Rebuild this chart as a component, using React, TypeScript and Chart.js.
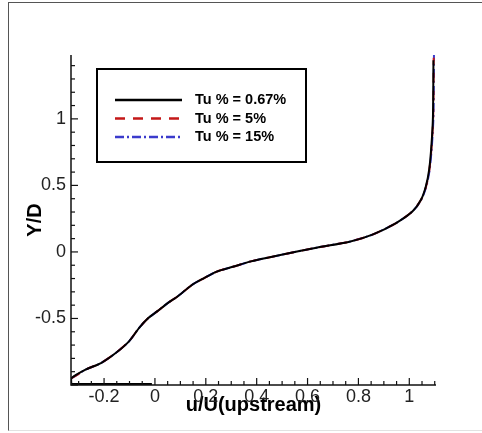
import React, { useEffect, useRef } from "react";
import { Chart, registerables } from "chart.js";

Chart.register(...registerables);

// ---- data ----
const seriesLabels = ["Tu % = 0.67%", "Tu % = 5%", "Tu % = 15%"];

const blackX = [-0.329, -0.329, -0.271, -0.212, -0.153, -0.101, -0.062, -0.025, 0.01, 0.05, 0.09, 0.144, 0.19, 0.243, 0.31, 0.373, 0.502, 0.635, 0.765, 0.855, 0.948, 1.013, 1.046, 1.065, 1.078, 1.087, 1.093, 1.095];
const blackY = [-0.99, -0.95, -0.883, -0.835, -0.758, -0.67, -0.57, -0.495, -0.445, -0.385, -0.333, -0.25, -0.2, -0.148, -0.11, -0.073, -0.02, 0.032, 0.077, 0.13, 0.217, 0.305, 0.392, 0.492, 0.617, 0.8, 1.015, 1.44];

const wallX = [-0.012, -0.329];
const wallY = [-0.992, -0.992];

const redX = [-0.329, -0.271, -0.212, -0.153, -0.101, -0.062, -0.025, 0.01, 0.05, 0.09, 0.144, 0.19, 0.243, 0.31, 0.373, 0.502, 0.635, 0.765, 0.855, 0.948, 1.013, 1.046, 1.066, 1.079, 1.088, 1.094, 1.096];
const redY = [-0.95, -0.883, -0.835, -0.758, -0.67, -0.57, -0.495, -0.445, -0.385, -0.333, -0.25, -0.2, -0.148, -0.11, -0.073, -0.02, 0.032, 0.077, 0.13, 0.217, 0.305, 0.392, 0.492, 0.617, 0.8, 1.015, 1.46];

const blueX = [-0.329, -0.271, -0.212, -0.153, -0.101, -0.062, -0.025, 0.01, 0.05, 0.09, 0.144, 0.19, 0.243, 0.31, 0.373, 0.502, 0.635, 0.765, 0.855, 0.948, 1.013, 1.047, 1.067, 1.08, 1.089, 1.095, 1.097];
const blueY = [-0.95, -0.883, -0.835, -0.758, -0.67, -0.57, -0.495, -0.445, -0.385, -0.333, -0.25, -0.2, -0.148, -0.11, -0.073, -0.02, 0.032, 0.077, 0.13, 0.217, 0.305, 0.392, 0.492, 0.617, 0.8, 1.015, 1.48];

const xTickValues = [-0.2, 0, 0.2, 0.4, 0.6, 0.8, 1];
const yTickValues = [-0.5, 0, 0.5, 1];

const X_MIN = -0.33;
const X_MAX = 1.105;
const Y_MIN = -1;
const Y_MAX = 1.48;

const FONT = "Arial, 'Liberation Sans', Helvetica, sans-serif";
const BLACK = "#000000";
const RED = "#c41818";
const BLUE = "#3b3bcc";

const pts = (xs: number[], ys: number[]) => xs.map((x, i) => ({ x, y: ys[i] }));

const fmt = (v: number) => String(Math.round(v * 10) / 10);

const axesPlugin = {
  id: "tecplotAxes",
  afterDraw(chart: any) {
    const { ctx, chartArea } = chart;
    const xs = chart.scales.x;
    const ys = chart.scales.y;
    ctx.save();
    ctx.strokeStyle = "#111";
    ctx.lineWidth = 1.5;
    ctx.beginPath();
    ctx.moveTo(chartArea.left, chartArea.top);
    ctx.lineTo(chartArea.left, chartArea.bottom);
    ctx.lineTo(chartArea.right, chartArea.bottom);
    ctx.stroke();
    ctx.lineWidth = 1.2;
    for (let i = -6; i * 0.05 <= X_MAX + 1e-9; i++) {
      const v = i * 0.05;
      if (v < X_MIN - 1e-9) continue;
      const px = xs.getPixelForValue(v);
      const major = i % 4 === 0;
      const len = major ? 7 : 4;
      ctx.beginPath();
      ctx.moveTo(px, chartArea.bottom);
      ctx.lineTo(px, chartArea.bottom - len);
      ctx.stroke();
    }
    for (let i = -10; i * 0.1 <= Y_MAX + 1e-9; i++) {
      const v = i * 0.1;
      const py = ys.getPixelForValue(v);
      const major = i % 5 === 0;
      const len = major ? 7 : 4;
      ctx.beginPath();
      ctx.moveTo(chartArea.left, py);
      ctx.lineTo(chartArea.left + len, py);
      ctx.stroke();
    }
    ctx.restore();
  },
};

const legendPlugin = {
  id: "boxLegend",
  afterDraw(chart: any) {
    const { ctx } = chart;
    ctx.save();
    ctx.strokeStyle = "#000";
    ctx.lineWidth = 2;
    ctx.strokeRect(97, 69, 209, 93);
    const rows = [
      { color: BLACK, dash: [] as number[], y: 100 },
      { color: RED, dash: [10, 8], y: 118.5 },
      { color: BLUE, dash: [9, 3, 2, 3], y: 137 },
    ];
    rows.forEach((r, i) => {
      ctx.beginPath();
      ctx.setLineDash(r.dash);
      ctx.strokeStyle = r.color;
      ctx.lineWidth = 2.5;
      ctx.moveTo(115, r.y);
      ctx.lineTo(182, r.y);
      ctx.stroke();
      ctx.setLineDash([]);
      ctx.fillStyle = "#000";
      ctx.font = `bold 14.5px ${FONT}`;
      ctx.textBaseline = "middle";
      ctx.textAlign = "left";
      ctx.fillText(seriesLabels[i], 195, r.y);
    });
    ctx.restore();
  },
};

export default function App() {
  const ref = useRef<HTMLCanvasElement | null>(null);

  useEffect(() => {
    if (!ref.current) return;
    const chart = new Chart(ref.current, {
      type: "scatter",
      data: {
        datasets: [
          {
            label: seriesLabels[0],
            data: pts(blackX, blackY),
            showLine: true,
            borderColor: BLACK,
            borderWidth: 2,
            pointRadius: 0,
            tension: 0.25,
          },
          {
            label: "wall",
            data: pts(wallX, wallY),
            showLine: true,
            borderColor: BLACK,
            borderWidth: 2,
            pointRadius: 0,
            tension: 0,
          },
          {
            label: seriesLabels[1],
            data: pts(redX, redY),
            showLine: true,
            borderColor: RED,
            borderWidth: 2,
            borderDash: [10, 8],
            pointRadius: 0,
            tension: 0.25,
          },
          {
            label: seriesLabels[2],
            data: pts(blueX, blueY),
            showLine: true,
            borderColor: BLUE,
            borderWidth: 2,
            borderDash: [9, 3, 2, 3],
            pointRadius: 0,
            tension: 0.25,
          },
        ],
      },
      options: {
        animation: false,
        responsive: false,
        maintainAspectRatio: false,
        layout: { padding: { left: 23, top: 55, right: 46, bottom: 16 } },
        plugins: {
          legend: { display: false },
          tooltip: { enabled: false },
        },
        scales: {
          x: {
            type: "linear",
            min: X_MIN,
            max: X_MAX,
            grid: { display: false, drawTicks: false },
            border: { display: false },
            afterFit: (s: any) => {
              s.height = 32;
            },
            afterBuildTicks: (s: any) => {
              s.ticks = xTickValues.map((v) => ({ value: v }));
            },
            ticks: {
              padding: 1,
              color: "#222",
              font: { family: FONT, size: 18 },
              maxRotation: 0,
              autoSkip: false,
              callback: (v: any) => fmt(Number(v)),
            },
            title: {
              display: true,
              text: "u/U(upstream)",
              color: "#000",
              padding: 0,
              font: { family: FONT, size: 20, weight: "bold" },
            },
          },
          y: {
            type: "linear",
            min: Y_MIN,
            max: Y_MAX,
            grid: { display: false, drawTicks: false },
            border: { display: false },
            afterFit: (s: any) => {
              s.width = 48;
            },
            afterBuildTicks: (s: any) => {
              s.ticks = yTickValues.map((v) => ({ value: v }));
            },
            ticks: {
              padding: 5,
              color: "#222",
              font: { family: FONT, size: 18 },
              autoSkip: false,
              callback: (v: any) => fmt(Number(v)),
            },
            title: {
              display: true,
              text: "Y/D",
              color: "#000",
              padding: 0,
              font: { family: FONT, size: 20, weight: "bold" },
            },
          },
        },
      },
      plugins: [axesPlugin, legendPlugin],
    });
    return () => chart.destroy();
  }, []);

  return (
    <div style={{ position: "fixed", left: 0, top: 0, width: 482, height: 433, background: "#fff" }}>
      <div
        style={{
          position: "absolute",
          left: 8,
          top: 2,
          width: 480,
          height: 429,
          borderLeft: "1px solid #555",
          borderTop: "1px solid #555",
          borderBottom: "1px solid #e2e2e2",
          boxSizing: "border-box",
        }}
      />
      <canvas ref={ref} width={482} height={433} style={{ position: "absolute", left: 0, top: 0, width: 482, height: 433 }} />
    </div>
  );
}
